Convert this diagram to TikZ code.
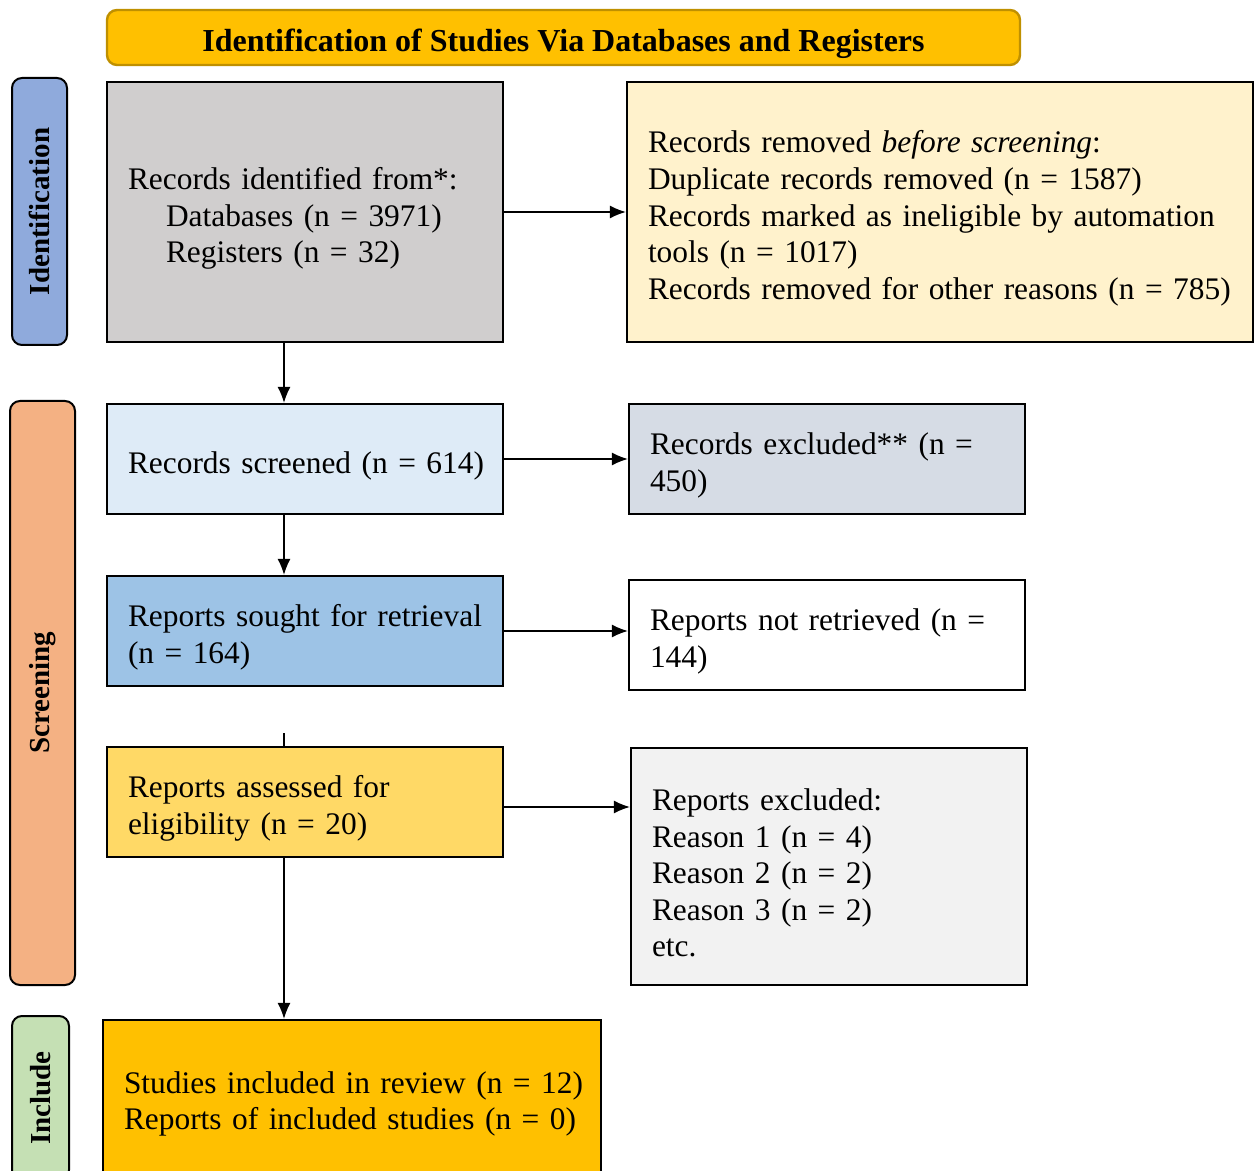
\documentclass[tikz,border=0pt]{standalone}
\usepackage{fontspec}
\setmainfont{Liberation Serif}
\usepackage{tikz}
\usetikzlibrary{positioning}
\usetikzlibrary{arrows.meta}
\definecolor{bannerfill}{HTML}{FFC000}
\definecolor{bannerline}{HTML}{BF9000}
\definecolor{idfill}{HTML}{8FAADC}
\definecolor{scrfill}{HTML}{F4B183}
\definecolor{incfill}{HTML}{C5E0B4}
\definecolor{grayfill}{HTML}{D0CECE}
\definecolor{creamfill}{HTML}{FFF2CC}
\definecolor{paleblue}{HTML}{DEEBF7}
\definecolor{slatefill}{HTML}{D6DCE5}
\definecolor{midblue}{HTML}{9DC3E6}
\definecolor{goldfill}{HTML}{FFD966}
\definecolor{lightgray}{HTML}{F2F2F2}
\newcommand{\oneline}[1]{\mbox{#1}}
\tikzset{% boxes and labels of the flow chart
        flowbox/.style={draw=black, line width=1.2pt, inner xsep=10.5pt, inner ysep=3pt, align=left,
                        execute at begin node={\rule{0pt}{17.5pt}}},
        phaselbl/.style={draw=black, line width=1pt, rounded corners=5pt, rotate=90, inner sep=0pt,
                         font=\fontsize{14.5}{17}\selectfont\bfseries},
        flowarrow/.style={-{Latex[length=8pt,width=6.5pt]}, line width=0.6pt}
        }

\begin{document}
\begin{tikzpicture}[x=0.5pt, y=-0.5pt, font=\fontsize{15.7}{18.3}\selectfont]
 \useasboundingbox (0,0) rectangle (1254,1171);
 % banner
 \node [draw=bannerline, fill=bannerfill, line width=1.2pt, rounded corners=5pt,
        minimum width=456.5pt, minimum height=27.5pt] (banner) at (563.5,37.5) {};
 \node [anchor=base, font=\fontsize{16}{18}\selectfont\bfseries] (bannertxt) at (563.5,52)
       {Identification of Studies Via Databases and Registers};
 % phase labels
 \node [phaselbl, fill=idfill, minimum width=133.5pt, minimum height=27.5pt] (lblid) at (39.5,211.5) {Identification};
 \node [phaselbl, fill=scrfill, minimum width=292pt, minimum height=32.5pt] (lblscr) at (42.5,693) {Screening};
 \node [phaselbl, fill=incfill, minimum width=82pt, minimum height=28.5pt] (lblinc) at (40.5,1098) {Include};
 % left column
 \node [flowbox, fill=grayfill, text width=177pt, minimum height=130pt] (recid) at (305,212)
       {\oneline{Records identified from*:}\\ \oneline{\hspace*{19pt}Databases (n = 3971)}\\
        \oneline{\hspace*{19pt}Registers (n = 32)}};
 \node [flowbox, fill=paleblue, text width=177pt, minimum height=55pt] (screened) at (305,459)
       {\oneline{Records screened (n = 614)}};
 \node [flowbox, fill=midblue, text width=177pt, minimum height=55pt] (sought) at (305,631)
       {\oneline{Reports sought for retrieval}\\ (n = 164)};
 \node [flowbox, fill=goldfill, text width=177pt, minimum height=55pt] (assessed) at (305,802)
       {\oneline{Reports assessed for}\\ \oneline{eligibility (n = 20)}};
 \node [flowbox, fill=bannerfill, text width=228pt, minimum height=77.5pt] (included) at (352,1097.5)
       {\oneline{Studies included in review (n = 12)}\\ \oneline{Reports of included studies (n = 0)}};
 % right column
 \node [flowbox, fill=creamfill, text width=292pt, minimum height=130pt] (rmvd) at (940,212)
       {\oneline{Records removed \textit{before screening}:}\\ \oneline{Duplicate records removed (n = 1587)}\\
        \oneline{Records marked as ineligible by automation}\\ \oneline{tools (n = 1017)}\\
        \oneline{Records removed for other reasons (n = 785)}};
 \node [flowbox, fill=slatefill, text width=177pt, minimum height=55pt] (excluded) at (827,459)
       {\oneline{Records excluded** (n =}\\ 450)};
 \node [flowbox, fill=white, text width=177pt, minimum height=55pt] (notret) at (827,635)
       {\oneline{Reports not retrieved (n =}\\ 144)};
 \node [flowbox, fill=lightgray, text width=177pt, minimum height=118.5pt] (repexcl) at (829,866.5)
       {Reports excluded:\\ Reason 1 (n = 4)\\ Reason 2 (n = 2)\\ Reason 3 (n = 2)\\ etc.};
 % connectors
 \draw [flowarrow] (recid.east) -- (rmvd.west);
 \draw [flowarrow] (screened.east) -- (excluded.west);
 \draw [flowarrow] (sought.east) -- (sought.east -| notret.west);
 \draw [flowarrow] ([yshift=-2.5pt]assessed.east) -- ([yshift=-2.5pt]assessed.east -| repexcl.west);
 \draw [flowarrow] ([xshift=-10.5pt]recid.south) -- ([xshift=-10.5pt]screened.north);
 \draw [flowarrow] ([xshift=-10.5pt]screened.south) -- ([xshift=-10.5pt]sought.north);
 \coordinate (stub) at (284,733);
 \draw [line width=0.6pt] (stub) -- (stub |- assessed.north);
 \draw [flowarrow] ([xshift=-10.5pt]assessed.south) -- ([xshift=-10.5pt]assessed.south |- included.north);
\end{tikzpicture}
\end{document}
